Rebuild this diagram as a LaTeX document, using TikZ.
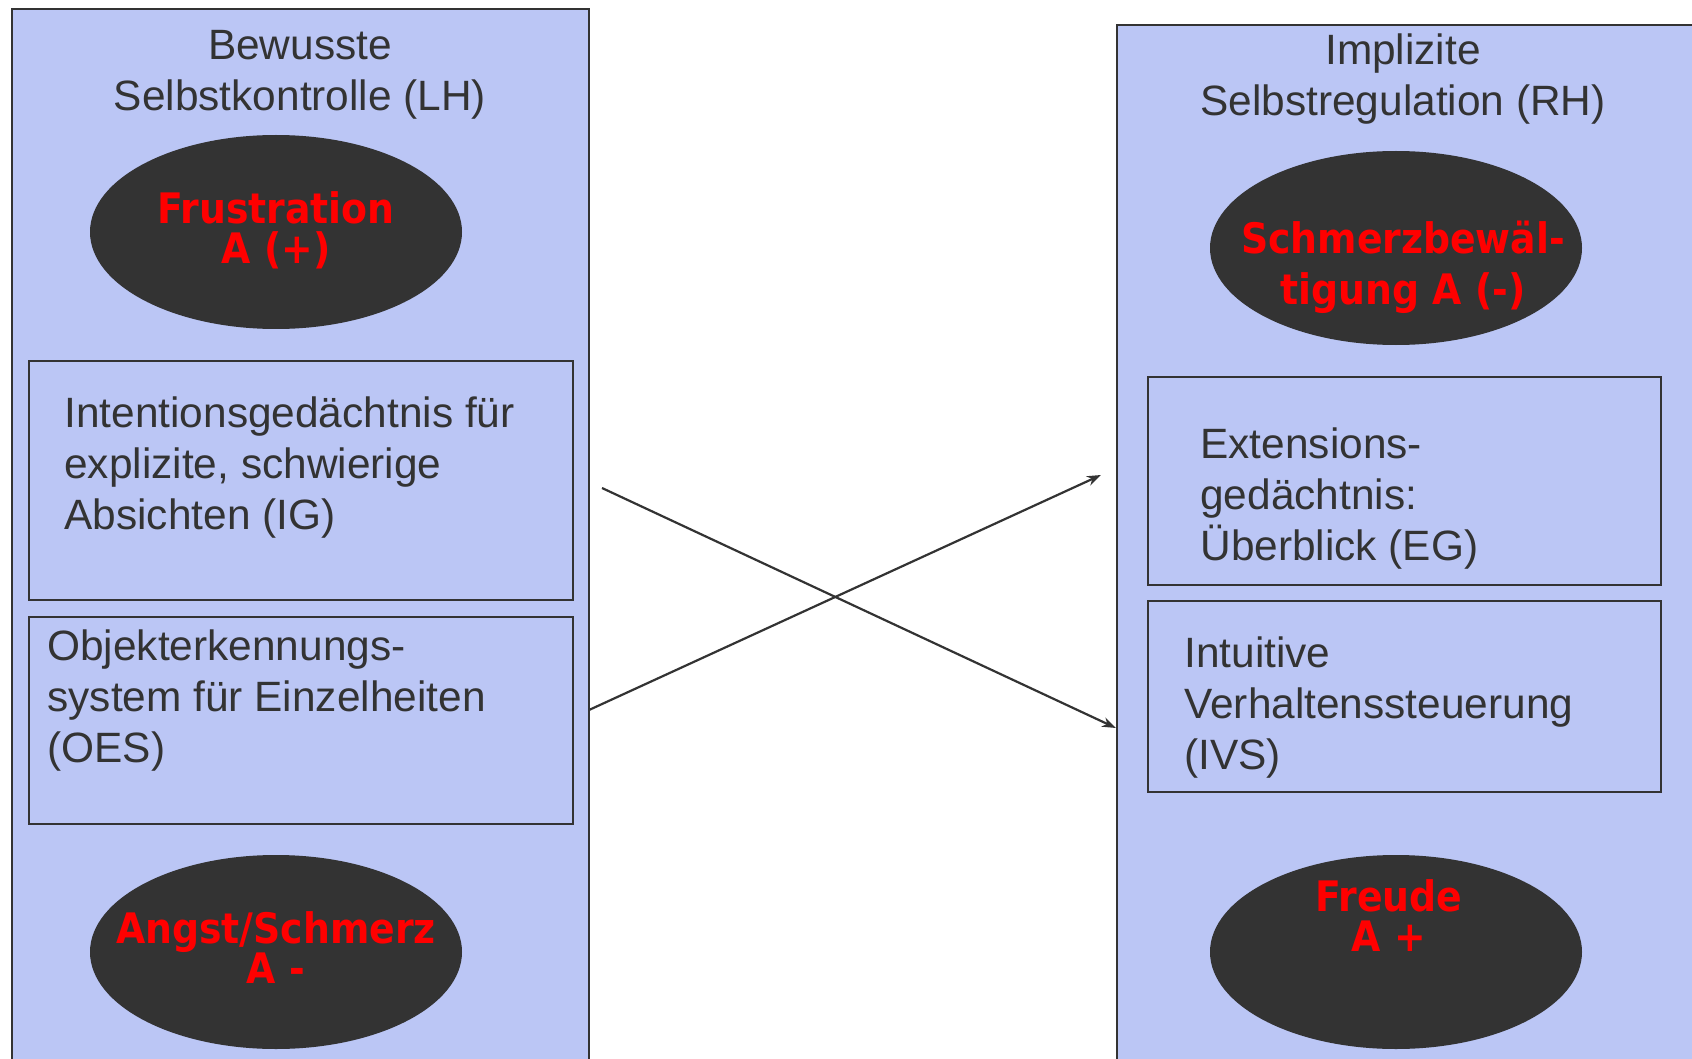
\documentclass[tikz,border=0pt]{standalone}
\usepackage{fontspec}
\setmainfont{Liberation Sans}
\newfontfamily\affectfont{DejaVuSansCondensed-Bold.ttf}
\usetikzlibrary{arrows.meta,shapes.geometric}
\definecolor{panelblue}{RGB}{187,198,245}
\definecolor{darkgrey}{RGB}{51,51,51}
\begin{document}
\begin{tikzpicture}[x=0.5pt,y=-0.5pt,
  panel/.style={draw=darkgrey,line width=1pt,fill=panelblue,rectangle,anchor=north west,inner sep=0pt},
  subbox/.style={draw=darkgrey,line width=1pt,rectangle,anchor=north west,inner sep=0pt},
  affect/.style={ellipse,fill=darkgrey,minimum width=186pt,minimum height=97pt,inner sep=0pt},
  affecttext/.style={text=red,font=\affectfont\fontsize{21}{20}\selectfont,align=center,inner sep=0pt},
  titletext/.style={text=darkgrey,font=\fontsize{21.2}{25.5}\selectfont,align=center,inner sep=0pt},
  bodytext/.style={text=darkgrey,font=\fontsize{21.2}{25.5}\selectfont,align=left,inner sep=0pt,anchor=west},
  link/.style={draw=darkgrey,line width=1.1pt,-{Stealth[length=7pt,width=5pt]}}]
\clip (0,0) rectangle (1692,1059);

\node[panel,minimum width=288.5pt,minimum height=533.5pt] (lh) at (11,8) {};
\node[titletext] (lhtitle) at (300,75) {Bewusste\\Selbstkontrolle (LH)};
\node[affect] (frust) at (276,232) {};
\node[affecttext] (frusttxt) at (276,230) {Frustration\\A (+)};
\node[subbox,minimum width=272pt,minimum height=119.5pt] (ig) at (28,360) {};
\node[bodytext] (igtxt) at (64,468) {Intentionsgedächtnis für\\explizite, schwierige\\Absichten (IG)};
\node[subbox,minimum width=272pt,minimum height=103.5pt] (oes) at (28,616) {};
\node[bodytext] (oestxt) at (47,701) {Objekterkennungs-\\system für Einzelheiten\\(OES)};
\node[affect] (angst) at (276,952) {};
\node[affecttext] (angsttxt) at (276,948) {Angst/Schmerz\\A -};

\node[panel,minimum width=297pt,minimum height=525.5pt] (rh) at (1116,24) {};
\node[titletext] (rhtitle) at (1403,79) {Implizite\\Selbstregulation (RH)};
\node[affect] (schmerz) at (1396,248) {};
\node[affecttext,font=\affectfont\fontsize{21}{25.5}\selectfont] (schmerztxt) at (1403,267) {Schmerzbewäl-\\tigung A (-)};
\node[subbox,minimum width=256.5pt,minimum height=104pt] (eg) at (1147,376) {};
\node[bodytext] (egtxt) at (1200,499) {Extensions-\\gedächtnis:\\Überblick (EG)};
\node[subbox,minimum width=256.5pt,minimum height=95.5pt] (ivs) at (1147,600) {};
\node[bodytext] (ivstxt) at (1184,708) {Intuitive\\Verhaltenssteuerung\\(IVS)};
\node[affect] (freude) at (1396,952) {};
\node[affecttext] (freudetxt) at (1389,916) {Freude\\A +};

\coordinate (igout) at (602,488);
\coordinate (ivsin) at (1116,728);
\coordinate (oesout) at (589,710);
\coordinate (egin) at (1101,475);
\draw[link] (igout) -- (ivsin);
\draw[link] (oesout) -- (egin);
\end{tikzpicture}
\end{document}
